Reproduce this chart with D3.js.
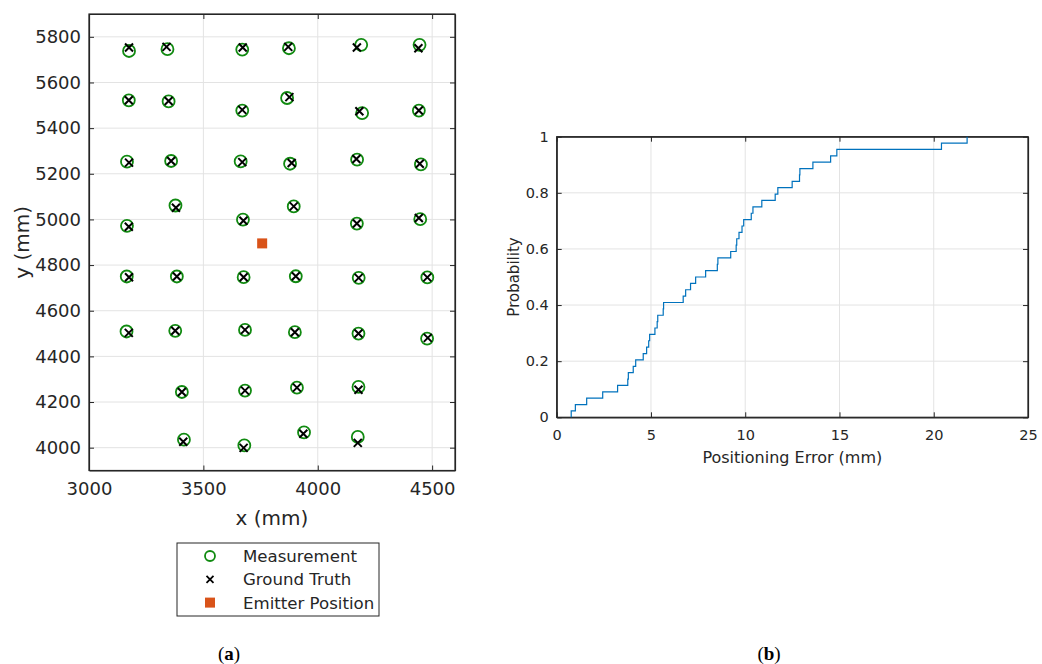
<!DOCTYPE html>
<html>
<head>
<meta charset="utf-8">
<script src="https://cdn.jsdelivr.net/npm/d3@7"></script>
<style>
  body { margin: 0; background: #fff; }
  svg { display: block; }
  .tick text { fill: #262626; }
</style>
</head>
<body>
<svg id="chart" width="1042" height="664" font-family="DejaVu Sans, Verdana, sans-serif"></svg>
<script>
// measured positions (mm)
const measX = [3175, 3343, 3670, 3874, 4190, 4445,
  3174, 3348, 3670, 3866, 4194, 4442,
  3166, 3359, 3663, 3879, 4172, 4451,
  3166, 3378, 3673, 3895, 4171, 4448,
  3165, 3384, 3676, 3904, 4179, 4479,
  3164, 3377, 3682, 3900, 4178, 4478,
  3406, 3682, 3909, 4178,
  3415, 3679, 3940, 4175];
const measY = [5738, 5746, 5744, 5750, 5765, 5765,
  5522, 5517, 5477, 5532, 5466, 5477,
  5253, 5256, 5254, 5244, 5262, 5241,
  4972, 5061, 4999, 5057, 4982, 5001,
  4750, 4750, 4747, 4751, 4744, 4746,
  4509, 4512, 4516, 4506, 4500, 4478,
  4244, 4250, 4263, 4266,
  4035, 4010, 4067, 4047];
// ground truth positions (mm)
const truthX = [3175, 3339, 3672, 3871, 4171, 4440,
  3174, 3348, 3670, 3876, 4182, 4442,
  3175, 3359, 3670, 3886, 4169, 4446,
  3174, 3380, 3675, 3895, 4171, 4442,
  3175, 3384, 3676, 3904, 4179, 4479,
  3174, 3377, 3682, 3900, 4178, 4481,
  3406, 3682, 3909, 4178,
  3412, 3676, 3937, 4175];
const truthY = [5753, 5756, 5753, 5756, 5753, 5750,
  5522, 5519, 5480, 5536, 5474, 5477,
  5249, 5256, 5251, 5247, 5265, 5244,
  4968, 5051, 4994, 5057, 4982, 5006,
  4747, 4750, 4747, 4751, 4744, 4746,
  4503, 4512, 4516, 4506, 4500, 4481,
  4244, 4250, 4263, 4254,
  4026, 3999, 4061, 4021];
const emitter = [3757, 4895];

const xTicksA = [3000, 3500, 4000, 4500];
const yTicksA = [4000, 4200, 4400, 4600, 4800, 5000, 5200, 5400, 5600, 5800];
const legendLabels = ['Measurement', 'Ground Truth', 'Emitter Position'];

// positioning errors (mm)
const errors = [0.77, 0.99, 1.59, 2.44, 3.23, 3.77, 3.80, 4.06, 4.19, 4.59,
  4.77, 4.88, 4.93, 5.21, 5.33, 5.36, 5.65, 5.67, 6.71, 6.84,
  7.10, 7.37, 7.90, 8.52, 8.55, 9.23, 9.52, 9.55, 9.67, 9.83,
  9.92, 10.32, 10.41, 10.88, 11.59, 11.73, 12.49, 12.88, 12.90, 13.59,
  14.53, 14.86, 20.41, 21.77];
const xTicksB = [0, 5, 10, 15, 20, 25];
const yTicksB = [0, 0.2, 0.4, 0.6, 0.8, 1];

const svg = d3.select('#chart');
const axisCol = '#262626';
const gridCol = '#e3e3e3';
const green = '#108a10';
const orange = '#d95319';

function frame(g, x, y, xt, yt, fs, fmtX, fmtY) {
  const [x0, x1] = x.range();
  const [y0, y1] = y.range();
  g.append('g').selectAll('line').data(xt).join('line')
    .attr('x1', d => x(d)).attr('x2', d => x(d)).attr('y1', y0).attr('y2', y1)
    .attr('stroke', gridCol).attr('stroke-width', 1);
  g.append('g').selectAll('line').data(yt).join('line')
    .attr('x1', x0).attr('x2', x1).attr('y1', d => y(d)).attr('y2', d => y(d))
    .attr('stroke', gridCol).attr('stroke-width', 1);

  const ax = d3.axisBottom(x).tickValues(xt).tickSizeInner(-5).tickSizeOuter(0).tickPadding(12).tickFormat(fmtX);
  const ay = d3.axisLeft(y).tickValues(yt).tickSizeInner(-5).tickSizeOuter(0).tickPadding(8).tickFormat(fmtY);
  const gx = g.append('g').attr('transform', `translate(0,${y0})`).call(ax);
  const gy = g.append('g').attr('transform', `translate(${x0},0)`).call(ay);
  const gx2 = g.append('g').attr('transform', `translate(0,${y1})`)
    .call(d3.axisTop(x).tickValues(xt).tickSizeInner(-5).tickSizeOuter(0).tickFormat(''));
  const gy2 = g.append('g').attr('transform', `translate(${x1},0)`)
    .call(d3.axisRight(y).tickValues(yt).tickSizeInner(-5).tickSizeOuter(0).tickFormat(''));
  [gx, gy, gx2, gy2].forEach(a => {
    a.select('.domain').attr('stroke', axisCol).attr('stroke-width', 1.2);
    a.selectAll('.tick line').attr('stroke', axisCol);
    a.selectAll('.tick text').attr('font-size', fs).attr('font-family', 'DejaVu Sans, sans-serif');
  });
  g.append('rect').attr('x', x0).attr('y', y1).attr('width', x1 - x0).attr('height', y0 - y1)
    .attr('fill', 'none').attr('stroke', axisCol).attr('stroke-width', 1.2);
}

// ---- (a) scatter ----
const xA = d3.scaleLinear().domain([3000, 4600]).range([89, 455]);
const yA = d3.scaleLinear().domain([3900, 5900]).range([470.5, 14]);
const gA = svg.append('g');
frame(gA, xA, yA, xTicksA, yTicksA, 18, d3.format('d'), d3.format('d'));

gA.append('text').attr('x', xA(3800)).attr('y', 525).attr('text-anchor', 'middle')
  .attr('font-size', 20).attr('fill', axisCol).text('x (mm)');
gA.append('text').attr('transform', `translate(29,${yA(4900)}) rotate(-90)`)
  .attr('text-anchor', 'middle').attr('font-size', 20).attr('fill', axisCol).text('y (mm)');

const crossPath = s => `M${-s},${-s}L${s},${s}M${-s},${s}L${s},${-s}`;

gA.append('g').selectAll('circle').data(measX).join('circle')
  .attr('cx', (d, i) => xA(d)).attr('cy', (d, i) => yA(measY[i])).attr('r', 6)
  .attr('fill', 'none').attr('stroke', green).attr('stroke-width', 1.8);
gA.append('g').selectAll('path').data(truthX).join('path')
  .attr('transform', (d, i) => `translate(${xA(d)},${yA(truthY[i])})`)
  .attr('d', crossPath(4)).attr('stroke', '#000').attr('stroke-width', 2);
gA.append('rect').attr('x', xA(emitter[0]) - 5).attr('y', yA(emitter[1]) - 5)
  .attr('width', 10).attr('height', 10).attr('fill', orange);

// legend
const lg = svg.append('g');
lg.append('rect').attr('x', 177).attr('y', 543).attr('width', 202).attr('height', 73)
  .attr('fill', '#fff').attr('stroke', axisCol).attr('stroke-width', 1);
const rows = legendLabels.map((t, i) => ({ t, y: 556 + i * 23.3 }));
lg.selectAll('text').data(rows).join('text')
  .attr('x', 243).attr('y', d => d.y + 6).attr('font-size', 16.6).attr('fill', axisCol).text(d => d.t);
lg.append('circle').attr('cx', 210).attr('cy', rows[0].y).attr('r', 5)
  .attr('fill', 'none').attr('stroke', green).attr('stroke-width', 1.8);
lg.append('path').attr('transform', `translate(210,${rows[1].y})`).attr('d', crossPath(3.5))
  .attr('stroke', '#000').attr('stroke-width', 1.8);
lg.append('rect').attr('x', 205).attr('y', rows[2].y - 5).attr('width', 10).attr('height', 10).attr('fill', orange);

// ---- (b) empirical CDF ----
const xB = d3.scaleLinear().domain([0, 25]).range([556.7, 1028]);
const yB = d3.scaleLinear().domain([0, 1]).range([417.3, 136.7]);
const gB = svg.append('g');
frame(gB, xB, yB, xTicksB, yTicksB, 14.5, d3.format('d'), d => d === 0 || d === 1 ? d : d3.format('.1f')(d));

const sorted = errors.slice().sort(d3.ascending);
const cdf = [{ x: sorted[0], p: 0 }].concat(sorted.map((e, i) => ({ x: e, p: (i + 1) / sorted.length })));
gB.append('path').datum(cdf)
  .attr('d', d3.line().x(d => xB(d.x)).y(d => yB(d.p)).curve(d3.curveStepAfter))
  .attr('fill', 'none').attr('stroke', '#0072bd').attr('stroke-width', 1.2);

gB.append('text').attr('x', xB(12.5)).attr('y', 463).attr('text-anchor', 'middle')
  .attr('font-size', 16).attr('fill', axisCol).text('Positioning Error (mm)');
gB.append('text').attr('transform', `translate(519,${yB(0.5)}) rotate(-90)`)
  .attr('text-anchor', 'middle').attr('font-size', 15).attr('fill', axisCol).text('Probability');

// captions
const caps = [['a', 229], ['b', 769]];
caps.forEach(([c, x]) => {
  const t = svg.append('text').attr('x', x).attr('y', 660).attr('text-anchor', 'middle')
    .attr('font-family', 'Liberation Serif, serif').attr('font-size', 19).attr('fill', '#000');
  t.append('tspan').text('(');
  t.append('tspan').attr('font-weight', 'bold').text(c);
  t.append('tspan').text(')');
});
</script>
</body>
</html>
